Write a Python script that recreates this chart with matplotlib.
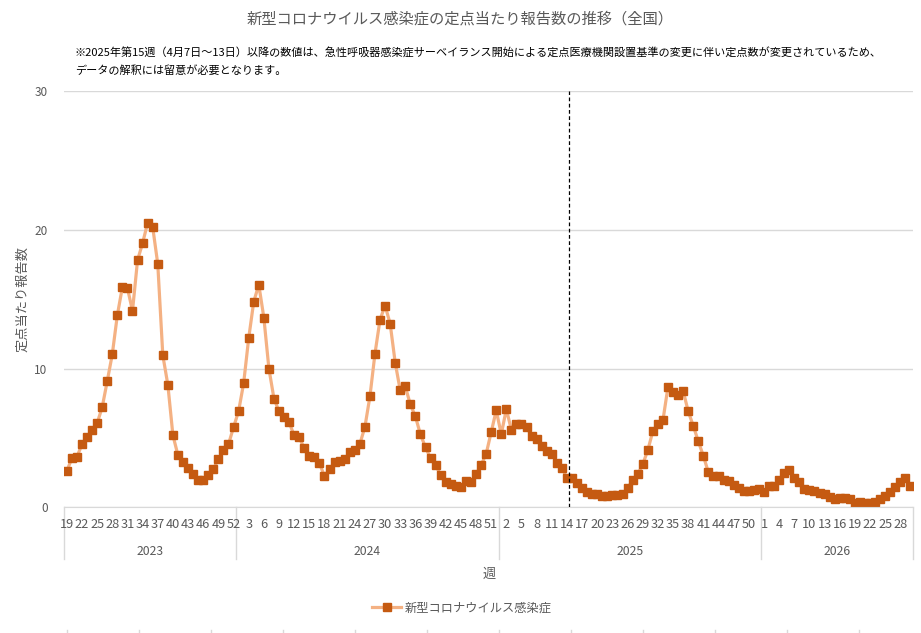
import matplotlib
matplotlib.use('Agg')
import matplotlib.pyplot as plt
from matplotlib.lines import Line2D

plt.rcParams['font.family'] = ['Noto Sans CJK JP', 'DejaVu Sans']

# weekly reports per sentinel site
years = [2023, 2024, 2025, 2026]
weeks_2023 = list(range(19, 53))
weeks_2024 = list(range(1, 53))
weeks_2025 = list(range(1, 53))
weeks_2026 = list(range(1, 31))

vals_2023 = [2.62, 3.53, 3.63, 4.54, 5.05, 5.58, 6.06, 7.21, 9.09, 11.03,
             13.85, 15.87, 15.79, 14.16, 17.81, 19.04, 20.50, 20.19, 17.54, 10.96,
             8.82, 5.19, 3.75, 3.25, 2.81, 2.38, 1.97, 1.97, 2.31, 2.76,
             3.46, 4.13, 4.54, 5.77]
vals_2024 = [6.92, 8.94, 12.18, 14.82, 16.04, 13.67, 10.00, 7.84, 6.91, 6.50,
             6.12, 5.18, 5.04, 4.24, 3.69, 3.60, 3.17, 2.25, 2.73, 3.24,
             3.31, 3.45, 3.96, 4.10, 4.56, 5.78, 7.99, 11.08, 13.53, 14.53,
             13.24, 10.43, 8.42, 8.71, 7.41, 6.55, 5.25, 4.32, 3.53, 3.02,
             2.33, 1.80, 1.65, 1.53, 1.46, 1.89, 1.82, 2.40, 3.05, 3.84,
             5.40, 6.98]
vals_2025 = [5.27, 7.07, 5.58, 6.01, 6.01, 5.77, 5.14, 4.90, 4.40, 4.04,
             3.82, 3.20, 2.86, 2.09, 2.09, 1.73, 1.37, 1.08, 0.96, 0.94,
             0.82, 0.82, 0.87, 0.87, 0.94, 1.37, 1.95, 2.38, 3.10, 4.11,
             5.48, 6.03, 6.27, 8.68, 8.32, 8.08, 8.39, 6.92, 5.87, 4.76,
             3.70, 2.52, 2.26, 2.26, 1.97, 1.88, 1.59, 1.37, 1.20, 1.15,
             1.25, 1.32]
vals_2026 = [1.11, 1.54, 1.54, 1.97, 2.45, 2.69, 2.09, 1.80, 1.32, 1.25,
             1.18, 1.06, 0.96, 0.72, 0.58, 0.67, 0.67, 0.60, 0.29, 0.41,
             0.31, 0.29, 0.38, 0.60, 0.84, 1.08, 1.47, 1.83, 2.12, 1.54]

series_name = '新型コロナウイルス感染症'
title = '新型コロナウイルス感染症の定点当たり報告数の推移（全国）'
note = ('※2025年第15週（4月7日～13日）以降の数値は、急性呼吸器感染症サーベイランス開始による'
        '定点医療機関設置基準の変更に伴い定点数が変更されているため、\nデータの解釈には留意が必要となります。')
change_year, change_week = 2025, 15

week_groups = [weeks_2023, weeks_2024, weeks_2025, weeks_2026]
values = vals_2023 + vals_2024 + vals_2025 + vals_2026
weeks = [w for g in week_groups for w in g]
xs = list(range(len(values)))

W, H = 921, 633
TEXT = '#595959'
GRID = '#D9D9D9'

fig = plt.figure(figsize=(W / 100, H / 100), dpi=100)
left, right, top, bottom = 64.3, 913.0, 91.0, 507.3
ax = fig.add_axes([left / W, 1 - bottom / H, (right - left) / W, (bottom - top) / H])

ax.plot(xs, values, '-', color='#F4B183', linewidth=2.3, zorder=2,
        marker='s', markersize=5.2, markerfacecolor='#C55A11',
        markeredgecolor='#C55A11', label=series_name)

ax.set_xlim(-0.5, len(values) - 0.5)
ax.set_ylim(0, 30)
ax.set_yticks([0, 10, 20, 30])
ax.tick_params(axis='y', length=0, labelsize=8.5, labelcolor=TEXT, pad=12)
ax.grid(axis='y', color=GRID, linewidth=1)
ax.set_axisbelow(True)
for side in ['top', 'right', 'left']:
    ax.spines[side].set_visible(False)
ax.spines['bottom'].set_color(GRID)
ax.set_xticks([])

# dashed line where the sentinel-site standard changed
start_2025 = len(weeks_2023) + len(weeks_2024)
ax.axvline(start_2025 + weeks_2025.index(change_week) - 0.5,
           color='black', linestyle=(0, (3, 2)), linewidth=0.9, zorder=3)

# two-level category axis: week numbers, then years
trans = ax.get_xaxis_transform()
for i, w in enumerate(weeks):
    if i % 3 == 0:
        ax.text(i, -0.042, str(w), transform=trans, ha='center', va='center',
                fontsize=9.2, color=TEXT)
pos = -0.5
bounds = [pos]
for y, g in zip(years, week_groups):
    ax.text(pos + len(g) / 2, -0.105, str(y), transform=trans, ha='center',
            va='center', fontsize=8.8, color=TEXT)
    pos += len(g)
    bounds.append(pos)
for b in bounds:
    ax.plot([b, b], [0, -0.123], transform=trans, color=GRID, linewidth=1,
            clip_on=False)

ax.set_ylabel('定点当たり報告数', fontsize=9.5, color=TEXT, labelpad=4)
fig.text(489 / W, 1 - 574 / H, '週', ha='center', va='center', fontsize=9.5, color=TEXT)
fig.text(460 / W, 1 - 19 / H, title, ha='center', va='center', fontsize=11, color=TEXT)
fig.text(75 / W, 1 - 62 / H, note, ha='left', va='center', fontsize=8,
         color='black', linespacing=1.75)

fig.legend(loc='center', bbox_to_anchor=(462 / W, 1 - 608 / H), frameon=False,
           fontsize=8.8, labelcolor=TEXT, handlelength=2.4, handletextpad=0.3)

# faint tick stubs along the bottom edge
for k in range(12):
    x = (67 + 72 * k) / W
    fig.add_artist(Line2D([x, x], [0, 3 / H], color=GRID, linewidth=1))

fig.savefig('out.png', dpi=100)
